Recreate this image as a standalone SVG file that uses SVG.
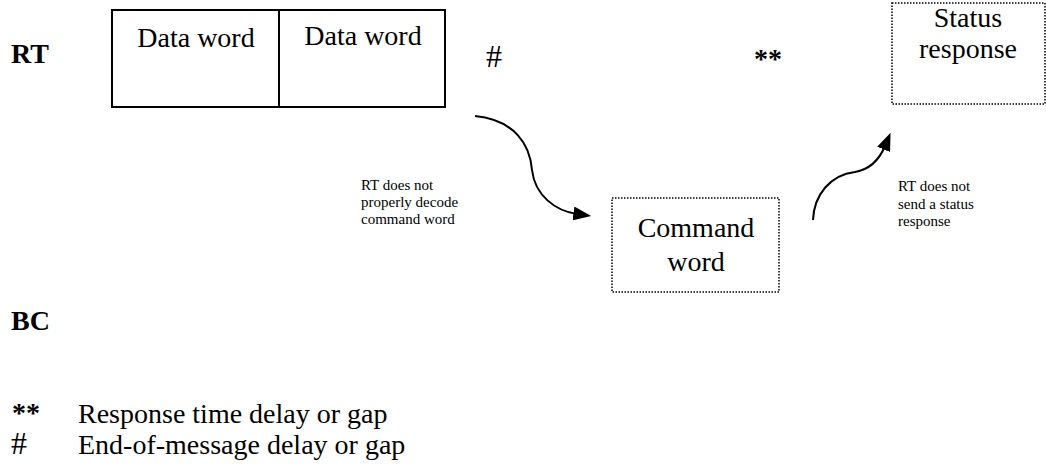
<svg xmlns="http://www.w3.org/2000/svg" width="1046" height="469" viewBox="0 0 1046 469">
<style>
text{font-family:"Liberation Serif","Times New Roman",serif;fill:#000}
.lbl{font-size:28px;font-weight:bold}
.big{font-size:28px}
.hash{font-size:32px}
.ast{font-size:28px;font-weight:bold}
.mid{text-anchor:middle}
.small{font-size:15px}
.solid{fill:#fff;stroke:#000;stroke-width:2}
.dot{fill:#fff;stroke:#000;stroke-width:1.5;stroke-dasharray:1.5 1.5}
.conn{fill:none;stroke:#000;stroke-width:2}
</style>
<defs>
<marker id="ah2" viewBox="0 0 10 10" refX="2" refY="5" markerWidth="18" markerHeight="14" markerUnits="userSpaceOnUse" orient="auto" preserveAspectRatio="none">
<path d="M0,0 L10,5 L0,10 z" fill="#000"/>
</marker>
</defs>
<rect width="1046" height="469" fill="#fff"/>
<g id="label-rt"><text class="lbl" x="11" y="63">RT</text></g>
<g id="label-bc"><text class="lbl" x="11" y="330">BC</text></g>
<g id="data-word-1"><rect class="solid" x="112" y="10" width="167" height="97"/><text class="big mid" x="196" y="47">Data word</text></g>
<g id="data-word-2"><rect class="solid" x="279" y="10" width="166" height="97"/><text class="big mid" x="363" y="45">Data word</text></g>
<g id="gap-eom"><text class="hash" x="486" y="67">#</text></g>
<g id="gap-resp"><text class="ast" x="754" y="68">**</text></g>
<g id="status-response"><rect class="dot" x="892" y="3" width="153" height="101"/><text class="big mid" x="968" y="27">Status</text><text class="big mid" x="968" y="58">response</text></g>
<g id="command-word"><rect class="dot" x="612" y="198" width="167" height="94"/><text class="big mid" x="696" y="237">Command</text><text class="big mid" x="696" y="271">word</text></g>
<g id="connectors">
<path class="conn" d="M475,116 C515,120 530,145 532,170 C535,196 556,211 577,214" marker-end="url(#ah2)"/>
<path class="conn" d="M813,220 C814,195 830,175 855,172 C872,169 880,158 885,146" marker-end="url(#ah2)"/>
</g>
<g id="note-1"><text class="small" x="361" y="190">RT does not</text><text class="small" x="361" y="207">properly decode</text><text class="small" x="361" y="224">command word</text></g>
<g id="note-2"><text class="small" x="898" y="191">RT does not</text><text class="small" x="898" y="209">send a status</text><text class="small" x="898" y="226">response</text></g>
<g id="legend">
<text class="ast" x="12" y="422">**</text><text class="big" x="78" y="423">Response time delay or gap</text>
<text class="hash" x="11" y="454">#</text><text class="big" x="78" y="454">End-of-message delay or gap</text>
</g>
</svg>
